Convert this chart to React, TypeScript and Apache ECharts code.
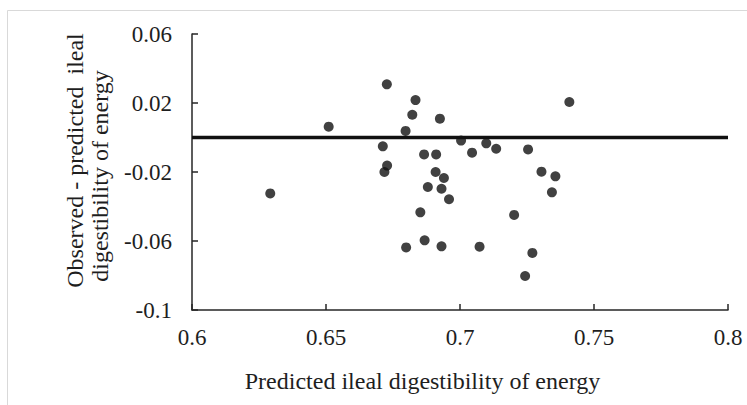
import React, { useEffect, useRef } from "react";
import * as echarts from "echarts";

const predicted: number[] = [
  0.6727, 0.6834, 0.6822, 0.6925, 0.651, 0.6797, 0.7004, 0.7045, 0.6712, 0.6866,
  0.6911, 0.6728, 0.6718, 0.6909, 0.694, 0.6292, 0.688, 0.6931, 0.6959, 0.6852,
  0.6799, 0.6868, 0.6931, 0.7073, 0.7408, 0.7098, 0.7135, 0.7254, 0.7304, 0.7356,
  0.7343, 0.7202, 0.727, 0.7243,
];
const residual: number[] = [
  0.0308, 0.0217, 0.0132, 0.0109, 0.0063, 0.0038, -0.0018, -0.0088, -0.0051, -0.0098,
  -0.0098, -0.0163, -0.02, -0.02, -0.0235, -0.0324, -0.0287, -0.0297, -0.0358, -0.0434,
  -0.0637, -0.0596, -0.0631, -0.0633, 0.0206, -0.0034, -0.0065, -0.0069, -0.0198, -0.0225,
  -0.0318, -0.0449, -0.0669, -0.0803,
];
const xTicks: number[] = [0.6, 0.65, 0.7, 0.75, 0.8];
const xTickLabels: string[] = ["0.6", "0.65", "0.7", "0.75", "0.8"];
const yTicks: number[] = [-0.1, -0.06, -0.02, 0.02, 0.06];
const yTickLabels: string[] = ["-0.1", "-0.06", "-0.02", "0.02", "0.06"];
const xTitle = "Predicted ileal digestibility of energy";
const yTitle1 = "Observed - predicted  ileal";
const yTitle2 = "digestibility of energy";

const FONT = "'Liberation Serif', serif";
const TXT = "#1e1e1e";

function labelFor(v: number, ticks: number[], labels: string[]): string {
  let best = 0;
  for (let i = 0; i < ticks.length; i++) {
    if (Math.abs(ticks[i] - v) < Math.abs(ticks[best] - v)) best = i;
  }
  return labels[best];
}

export default function App() {
  const ref = useRef<HTMLDivElement>(null);
  useEffect(() => {
    if (!ref.current) return;
    const chart = echarts.init(ref.current, undefined, { renderer: "svg" });
    const points = predicted.map((x, i) => [x, residual[i]]);
    const labelStyle = {
      fontFamily: FONT,
      fontSize: 23,
      fontWeight: "normal",
      color: TXT,
    };
    chart.setOption({
      animation: false,
      backgroundColor: "#ffffff",
      textStyle: { fontFamily: FONT, fontSize: 23 },
      grid: { left: 192, right: 19, top: 34, bottom: 95, containLabel: false },
      xAxis: {
        type: "value",
        min: 0.6,
        max: 0.8,
        interval: 0.05,
        splitLine: { show: false },
        axisLine: { show: true, onZero: false, lineStyle: { color: "#262626", width: 1.5 } },
        axisTick: { show: true, inside: true, length: 6, lineStyle: { color: "#262626", width: 1.5 } },
        axisLabel: {
          ...labelStyle,
          formatter: (v: number) => labelFor(v, xTicks, xTickLabels),
          margin: 16,
        },
      },
      yAxis: {
        type: "value",
        min: -0.1,
        max: 0.06,
        splitLine: { show: false },
        axisLine: { show: true, onZero: false, lineStyle: { color: "#262626", width: 1.5 } },
        axisTick: { show: true, inside: true, length: 6, customValues: yTicks, lineStyle: { color: "#262626", width: 1.5 } },
        axisLabel: {
          ...labelStyle,
          customValues: yTicks,
          formatter: (v: number) => labelFor(v, yTicks, yTickLabels),
          margin: 20,
        },
      },
      series: [
        {
          type: "line",
          data: [[0.6, 0], [0.8, 0]],
          symbol: "none",
          lineStyle: { color: "#111111", width: 3.5 },
          silent: true,
          z: 1,
        },
        {
          type: "scatter",
          data: points,
          symbol: "circle",
          symbolSize: 10,
          itemStyle: { color: "#111111" },
          z: 2,
        },
      ],
      graphic: [
        {
          type: "polyline",
          shape: { points: [[7.5, 405], [7.5, 10.5], [747, 10.5]] },
          style: { stroke: "#d9d9d9", lineWidth: 1, fill: "none" },
          silent: true,
        },
        {
          type: "text",
          x: 422.5,
          y: 381,
          style: { text: xTitle, font: `24px ${FONT}`, fill: TXT, align: "center", verticalAlign: "middle" },
        },
        {
          type: "text",
          x: 75,
          y: 160.5,
          rotation: Math.PI / 2,
          style: { text: yTitle1, font: `24px ${FONT}`, fill: TXT, align: "center", verticalAlign: "middle" },
        },
        {
          type: "text",
          x: 100,
          y: 176,
          rotation: Math.PI / 2,
          style: { text: yTitle2, font: `24px ${FONT}`, fill: TXT, align: "center", verticalAlign: "middle" },
        },
      ],
    });
    return () => chart.dispose();
  }, []);
  return (
    <div
      ref={ref}
      style={{ position: "fixed", left: 0, top: 0, width: 747, height: 405 }}
    />
  );
}
